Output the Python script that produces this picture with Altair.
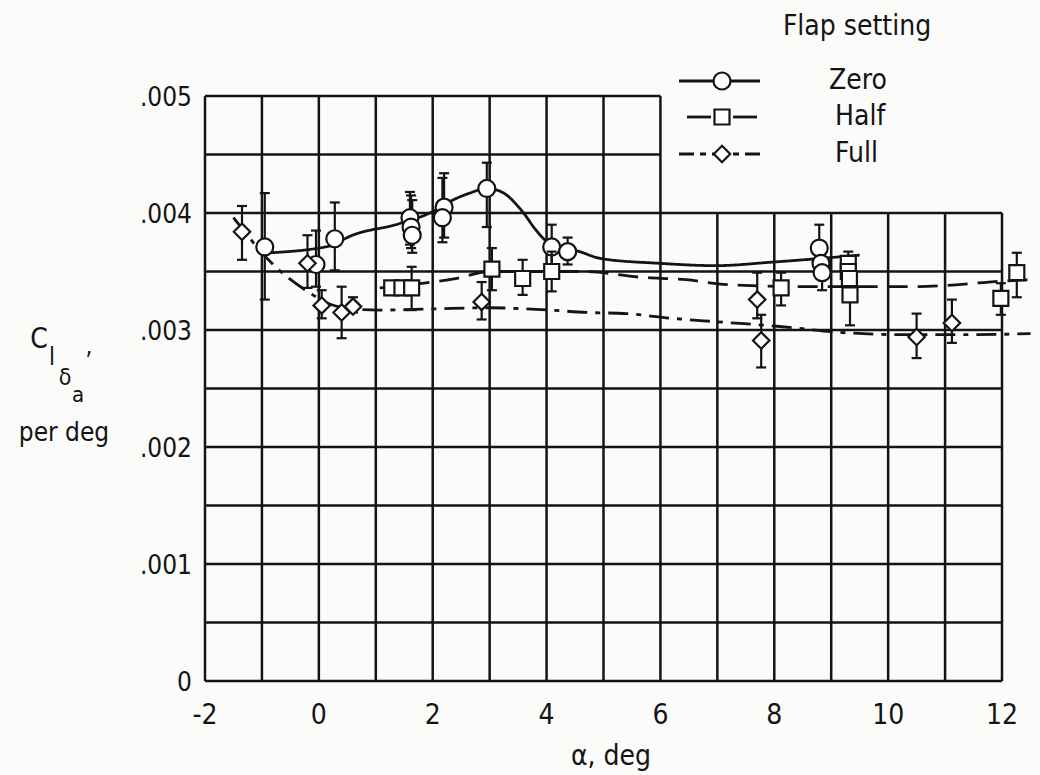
import altair as alt
import pandas as pd

INK = "#141414"
FONT = "Liberation Sans Narrow, DejaVu Sans Condensed, Roboto Condensed, DejaVu Sans, sans-serif"

# ---- axis ticks / grid ----
X_TICKS = [-2, 0, 2, 4, 6, 8, 10, 12]
X_GRID = [-2, -1, 0, 1, 2, 3, 4, 5, 6, 7, 8, 9, 10, 11, 12]
Y_TICKS = [0, 0.001, 0.002, 0.003, 0.004, 0.005]
Y_TICK_LABELS = ["0", ".001", ".002", ".003", ".004", ".005"]
Y_GRID = [0, 0.0005, 0.001, 0.0015, 0.002, 0.0025, 0.003, 0.0035, 0.004, 0.0045, 0.005]
X_DOMAIN = [-2, 12]
Y_DOMAIN = [0, 0.005]
X_TITLE = "α, deg"
# grid is cut away in the upper right where the legend sits
CUT_X = 6
CUT_Y = 0.004

SERIES = ["Zero", "Half", "Full"]
LEGEND_TITLE = "Flap setting"

# ---- Zero flap: measured points ----
zero_x = [-0.95, -0.05, 0.28, 1.60, 1.62, 1.64, 2.20, 2.17, 2.95, 4.09, 4.37, 8.79, 8.82, 8.84]
zero_y = [0.00371, 0.00356, 0.00378, 0.00396, 0.00388, 0.00381, 0.00405, 0.00396, 0.00421,
          0.00371, 0.00367, 0.00370, 0.00357, 0.00349]
zero_lo = [0.00326, 0.00337, 0.00351, 0.00373, 0.00370, 0.00366, 0.00379, 0.00375, 0.00388,
           0.00351, 0.00356, None, None, 0.00334]
zero_hi = [0.00417, 0.00385, 0.00409, 0.00418, 0.00415, 0.00411, 0.00434, 0.00430, 0.00443,
           0.00390, 0.00379, 0.00390, None, None]
# faired curve
zero_cx = [-0.85, 0.30, 0.42, 1.42, 1.95, 2.35, 2.65, 2.95, 3.21, 3.58, 3.82, 4.05, 4.58,
           4.96, 5.98, 6.98, 7.96, 9.50]
zero_cy = [0.00366, 0.00373, 0.00377, 0.00391, 0.00400, 0.00411, 0.00417, 0.00421, 0.00418,
           0.00401, 0.00385, 0.00374, 0.00367, 0.00361, 0.00357, 0.00355, 0.00358, 0.00364]

# ---- Half flap ----
half_x = [1.28, 1.46, 1.63, 3.04, 3.58, 4.09, 8.12, 9.30, 9.30, 9.32, 9.33, 11.98, 12.26]
half_y = [0.00336, 0.00336, 0.00336, 0.00352, 0.00344, 0.00350, 0.00336, 0.00357, 0.00350,
          0.00344, 0.00330, 0.00327, 0.00349]
half_lo = [None, None, 0.00317, 0.00334, 0.00330, 0.00333, 0.00321, None, None, None, 0.00304,
           0.00313, 0.00328]
half_hi = [None, None, 0.00354, 0.00370, 0.00360, 0.00367, 0.00349, 0.00367, None, None, None,
           0.00340, 0.00366]
half_cx = [1.07, 2.00, 2.40, 3.00, 4.00, 4.63, 5.68, 6.45, 7.10, 8.60, 9.60, 10.25, 11.00,
           11.77, 12.50]
half_cy = [0.00336, 0.00341, 0.00344, 0.00350, 0.00350, 0.00350, 0.00345, 0.00343, 0.00339,
           0.00337, 0.00337, 0.00337, 0.00338, 0.00341, 0.00343]

# ---- Full flap ----
full_x = [-1.35, -0.20, 0.05, 0.40, 0.60, 2.86, 7.70, 7.77, 10.50, 11.12]
full_y = [0.00384, 0.00357, 0.00321, 0.00315, 0.00320, 0.00324, 0.00326, 0.00291, 0.00294,
          0.00306]
full_lo = [0.00360, 0.00336, 0.00310, 0.00293, 0.00315, 0.00309, 0.00310, 0.00268, 0.00276,
           0.00289]
full_hi = [0.00406, 0.00381, 0.00334, 0.00337, 0.00328, 0.00341, 0.00349, 0.00313, 0.00314,
           0.00326]
full_cx = [-1.50, -0.74, -0.20, 0.20, 0.60, 1.07, 2.00, 3.00, 4.05, 4.70, 5.40, 6.20, 7.00,
           8.10, 9.14, 10.30, 11.50, 12.50]
full_cy = [0.00396, 0.00353, 0.00333, 0.00322, 0.00318, 0.00317, 0.00318, 0.00319, 0.00317,
           0.00315, 0.00314, 0.00310, 0.00307, 0.00303, 0.00298, 0.00296, 0.00296, 0.00297]

SHAPES = {"Zero": "circle", "Half": "square", "Full": "diamond"}
SIZES = {"Zero": 289, "Half": 225, "Full": 270}
DASHES = {"Zero": [1, 0], "Half": [20, 10], "Full": [20, 8, 5, 8]}

W, H = 797, 585
XS = alt.Scale(domain=X_DOMAIN, nice=False, zero=False)
YS = alt.Scale(domain=Y_DOMAIN, nice=False, zero=False)


def X(field):
    return alt.X(field, scale=XS, axis=None)


def Y(field):
    return alt.Y(field, scale=YS, axis=None)


pts = {
    "Zero": pd.DataFrame({"x": zero_x, "y": zero_y, "lo": zero_lo, "hi": zero_hi}),
    "Half": pd.DataFrame({"x": half_x, "y": half_y, "lo": half_lo, "hi": half_hi}),
    "Full": pd.DataFrame({"x": full_x, "y": full_y, "lo": full_lo, "hi": full_hi}),
}
curves = {
    "Zero": pd.DataFrame({"x": zero_cx, "y": zero_cy}),
    "Half": pd.DataFrame({"x": half_cx, "y": half_cy}),
    "Full": pd.DataFrame({"x": full_cx, "y": full_cy}),
}

# ---- grid ----
gv = pd.DataFrame({"x": X_GRID,
                   "y0": [Y_DOMAIN[0]] * len(X_GRID),
                   "y1": [Y_DOMAIN[1] if v <= CUT_X else CUT_Y for v in X_GRID]})
gh = pd.DataFrame({"y": Y_GRID,
                   "x0": [X_DOMAIN[0]] * len(Y_GRID),
                   "x1": [X_DOMAIN[1] if v <= CUT_Y else CUT_X for v in Y_GRID]})

layers = [
    alt.Chart(gv).mark_rule(color=INK, strokeWidth=2.5).encode(x=X("x:Q"), y=Y("y0:Q"), y2="y1:Q"),
    alt.Chart(gh).mark_rule(color=INK, strokeWidth=2.5).encode(y=Y("y:Q"), x=X("x0:Q"), x2="x1:Q"),
]

# tick labels drawn through the scales
layers.append(alt.Chart(pd.DataFrame({"v": X_TICKS, "t": [str(v) for v in X_TICKS]})).mark_text(
    font=FONT, fontSize=28, color=INK, align="center", baseline="top").encode(
    x=X("v:Q"), y=alt.value(H + 21), text="t:N"))
layers.append(alt.Chart(pd.DataFrame({"v": Y_TICKS, "t": Y_TICK_LABELS})).mark_text(
    font=FONT, fontSize=26, color=INK, align="right", baseline="middle", dy=2).encode(
    y=Y("v:Q"), x=alt.value(-13), text="t:N"))
layers.append(alt.Chart(pd.DataFrame({"t": [X_TITLE]})).mark_text(
    font=FONT, fontSize=28, color=INK, align="center", baseline="alphabetic").encode(
    x=alt.value(406), y=alt.value(H + 84), text="t:N"))

for s in SERIES:
    layers.append(
        alt.Chart(curves[s]).mark_line(interpolate="monotone", color=INK, strokeWidth=2.8,
                                       strokeDash=DASHES[s]).encode(
            x=X("x:Q"), y=Y("y:Q"), order="x:Q")
    )

for s in SERIES:
    base = alt.Chart(pts[s])
    layers.append(base.transform_filter("isValid(datum.hi)").mark_rule(color=INK, strokeWidth=2.2).encode(
        x=X("x:Q"), y=Y("y:Q"), y2="hi:Q"))
    layers.append(base.transform_filter("isValid(datum.lo)").mark_rule(color=INK, strokeWidth=2.2).encode(
        x=X("x:Q"), y=Y("y:Q"), y2="lo:Q"))
    for f in ["lo", "hi"]:
        layers.append(base.transform_filter(f"isValid(datum.{f})").mark_point(
            shape="M-1,0L1,0", stroke=INK, strokeWidth=2.2, size=100, opacity=1).encode(
            x=X("x:Q"), y=Y(f"{f}:Q")))
    layers.append(base.mark_point(shape=SHAPES[s], filled=True, fill="white", stroke=INK,
                                  strokeWidth=2.2, size=SIZES[s], opacity=1).encode(
        x=X("x:Q"), y=Y("y:Q")))

# ---- legend (pixel placed, in the upper-right cut-out) ----
LEG_Y = {"Zero": -15, "Half": 21, "Full": 58}
one = pd.DataFrame({"k": [0]})
layers.append(alt.Chart(pd.DataFrame({"t": [LEGEND_TITLE]})).mark_text(
    font=FONT, fontSize=28, color=INK, align="center", baseline="alphabetic").encode(
    text="t:N", x=alt.value(652), y=alt.value(-61)))
for s in SERIES:
    yy = LEG_Y[s]
    if s == "Zero":
        layers.append(alt.Chart(one).mark_rule(color=INK, strokeWidth=2.8).encode(
            x=alt.value(474), x2=alt.value(555), y=alt.value(yy)))
    elif s == "Half":
        for a, b in [(482, 506), (528, 552)]:
            layers.append(alt.Chart(one).mark_rule(color=INK, strokeWidth=2.8).encode(
                x=alt.value(a), x2=alt.value(b), y=alt.value(yy)))
    else:
        layers.append(alt.Chart(one).mark_rule(color=INK, strokeWidth=2.8,
                                               strokeDash=[15, 6, 6, 6]).encode(
            x=alt.value(474), x2=alt.value(560), y=alt.value(yy)))
    layers.append(alt.Chart(one).mark_point(shape=SHAPES[s], filled=True, fill="white",
                                            stroke=INK, strokeWidth=2.2, size=SIZES[s],
                                            opacity=1).encode(
        x=alt.value(517), y=alt.value(yy)))
    layers.append(alt.Chart(pd.DataFrame({"t": [s]})).mark_text(
        font=FONT, fontSize=28, color=INK, align="left", baseline="middle").encode(
        text="t:N", x=alt.value(624 if s == "Zero" else 630), y=alt.value(yy)))

# ---- y-axis title: C l delta a , per deg ----
ylab = [
    ("C", -166, 252, 28),
    ("l", -153, 269, 24),
    (",", -116, 258, 24),
    ("δ", -140, 289, 23),
    ("a", -127, 306, 22),
    ("per deg", -141, 345, 26),
]
for t, xx, yy, fs in ylab:
    layers.append(alt.Chart(pd.DataFrame({"t": [t]})).mark_text(
        font=FONT, fontSize=fs, color=INK, align="center", baseline="alphabetic").encode(
        text="t:N", x=alt.value(xx), y=alt.value(yy)))

chart = alt.layer(*layers).properties(
    width=W, height=H,
    padding={"left": 205, "top": 96, "right": 38, "bottom": 94},
    autosize=alt.AutoSizeParams(type="none"),
    background="#fbfbfa",
).configure_view(stroke=None)

chart.save("out.html", embed_options={"renderer": "svg", "actions": False})
